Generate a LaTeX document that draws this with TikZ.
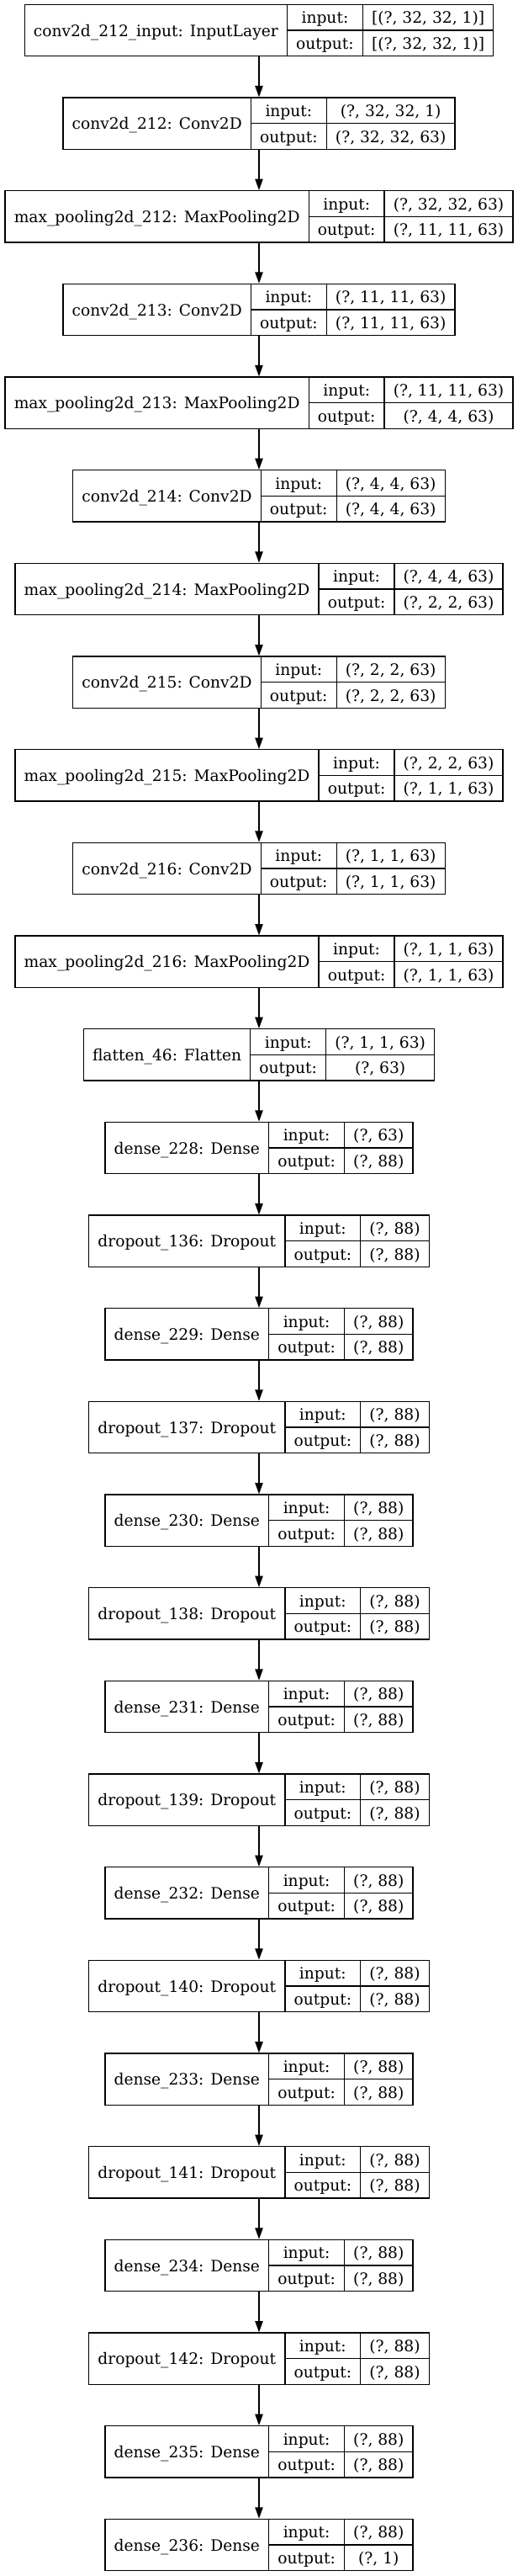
\documentclass[tikz,border=0pt]{standalone}
\usepackage{fontspec}
\setmainfont{DejaVu Serif}
\usetikzlibrary{arrows.meta}
\newlength\lbLenA \newlength\lbLenB \newlength\lbLenC \newlength\lbLenD \newlength\lbLenW
\newcommand\lbFont{\fontsize{14}{16.8}\selectfont}
\tikzset{
  layerframe/.style={draw=black, line width=1pt, inner sep=0pt, minimum height=46pt},
  divline/.style={draw=black, line width=1pt},
  celltext/.style={inner sep=0pt, font=\lbFont, text height=14pt, text depth=3.4pt, anchor=center},
  flowarrow/.style={draw=black, line width=1pt, -{Triangle[length=10pt,width=7pt]}}
}
% #1 node name, #2 row index, #3 label, #4 input shape, #5 output shape
\newcommand\layerbox[5]{%
  \pgfinterruptpicture
    \settowidth\lbLenA{\normalfont\lbFont #3}\global\lbLenA=\lbLenA
    \settowidth\lbLenB{\normalfont\lbFont output:}\global\lbLenB=\lbLenB
    \settowidth\lbLenC{\normalfont\lbFont #4}\global\lbLenC=\lbLenC
    \settowidth\lbLenD{\normalfont\lbFont #5}\global\lbLenD=\lbLenD
  \endpgfinterruptpicture
  \addtolength\lbLenA{16pt}%
  \addtolength\lbLenB{16pt}%
  \ifdim\lbLenD>\lbLenC \lbLenC=\lbLenD\fi
  \addtolength\lbLenC{16pt}%
  \lbLenW=\lbLenA \addtolength\lbLenW{\lbLenB}\addtolength\lbLenW{\lbLenC}%
  \pgfmathsetmacro\lbYc{-(27+83*#2)}%
  \pgfmathsetmacro\lbXl{231-0.5*\lbLenW}%
  \pgfmathsetmacro\lbXa{\lbXl+\lbLenA}%
  \pgfmathsetmacro\lbXb{\lbXa+\lbLenB}%
  \pgfmathsetmacro\lbXr{\lbXl+\lbLenW}%
  \pgfmathsetmacro\lbCa{\lbXl+0.5*\lbLenA}%
  \pgfmathsetmacro\lbCb{\lbXa+0.5*\lbLenB}%
  \pgfmathsetmacro\lbCc{\lbXb+0.5*\lbLenC}%
  \pgfmathsetmacro\lbYt{\lbYc+23}%
  \pgfmathsetmacro\lbYb{\lbYc-23}%
  \pgfmathsetmacro\lbYu{\lbYc+11.5}%
  \pgfmathsetmacro\lbYl{\lbYc-11.5}%
  \node[layerframe, minimum width=\lbLenW] (#1) at (231pt,\lbYc pt) {};
  \draw[divline] (\lbXa pt,\lbYt pt) -- (\lbXa pt,\lbYb pt);
  \draw[divline] (\lbXb pt,\lbYt pt) -- (\lbXb pt,\lbYb pt);
  \draw[divline] (\lbXa pt,\lbYc pt) -- (\lbXr pt,\lbYc pt);
  \node[celltext] (#1-label) at (\lbCa pt,\lbYc pt) {#3};
  \node[celltext] (#1-in) at (\lbCb pt,\lbYu pt) {input:};
  \node[celltext] (#1-out) at (\lbCb pt,\lbYl pt) {output:};
  \node[celltext] (#1-inv) at (\lbCc pt,\lbYu pt) {#4};
  \node[celltext] (#1-outv) at (\lbCc pt,\lbYl pt) {#5};
}
\begin{document}
\begin{tikzpicture}
\useasboundingbox[fill=white] (0pt,0pt) rectangle (462pt,-2295.75pt);
\layerbox{b0}{0}{conv2d\_212\_input: InputLayer}{[(?, 32, 32, 1)]}{[(?, 32, 32, 1)]}
\layerbox{b1}{1}{conv2d\_212: Conv2D}{(?, 32, 32, 1)}{(?, 32, 32, 63)}
\layerbox{b2}{2}{max\_pooling2d\_212: MaxPooling2D}{(?, 32, 32, 63)}{(?, 11, 11, 63)}
\layerbox{b3}{3}{conv2d\_213: Conv2D}{(?, 11, 11, 63)}{(?, 11, 11, 63)}
\layerbox{b4}{4}{max\_pooling2d\_213: MaxPooling2D}{(?, 11, 11, 63)}{(?, 4, 4, 63)}
\layerbox{b5}{5}{conv2d\_214: Conv2D}{(?, 4, 4, 63)}{(?, 4, 4, 63)}
\layerbox{b6}{6}{max\_pooling2d\_214: MaxPooling2D}{(?, 4, 4, 63)}{(?, 2, 2, 63)}
\layerbox{b7}{7}{conv2d\_215: Conv2D}{(?, 2, 2, 63)}{(?, 2, 2, 63)}
\layerbox{b8}{8}{max\_pooling2d\_215: MaxPooling2D}{(?, 2, 2, 63)}{(?, 1, 1, 63)}
\layerbox{b9}{9}{conv2d\_216: Conv2D}{(?, 1, 1, 63)}{(?, 1, 1, 63)}
\layerbox{b10}{10}{max\_pooling2d\_216: MaxPooling2D}{(?, 1, 1, 63)}{(?, 1, 1, 63)}
\layerbox{b11}{11}{flatten\_46: Flatten}{(?, 1, 1, 63)}{(?, 63)}
\layerbox{b12}{12}{dense\_228: Dense}{(?, 63)}{(?, 88)}
\layerbox{b13}{13}{dropout\_136: Dropout}{(?, 88)}{(?, 88)}
\layerbox{b14}{14}{dense\_229: Dense}{(?, 88)}{(?, 88)}
\layerbox{b15}{15}{dropout\_137: Dropout}{(?, 88)}{(?, 88)}
\layerbox{b16}{16}{dense\_230: Dense}{(?, 88)}{(?, 88)}
\layerbox{b17}{17}{dropout\_138: Dropout}{(?, 88)}{(?, 88)}
\layerbox{b18}{18}{dense\_231: Dense}{(?, 88)}{(?, 88)}
\layerbox{b19}{19}{dropout\_139: Dropout}{(?, 88)}{(?, 88)}
\layerbox{b20}{20}{dense\_232: Dense}{(?, 88)}{(?, 88)}
\layerbox{b21}{21}{dropout\_140: Dropout}{(?, 88)}{(?, 88)}
\layerbox{b22}{22}{dense\_233: Dense}{(?, 88)}{(?, 88)}
\layerbox{b23}{23}{dropout\_141: Dropout}{(?, 88)}{(?, 88)}
\layerbox{b24}{24}{dense\_234: Dense}{(?, 88)}{(?, 88)}
\layerbox{b25}{25}{dropout\_142: Dropout}{(?, 88)}{(?, 88)}
\layerbox{b26}{26}{dense\_235: Dense}{(?, 88)}{(?, 88)}
\layerbox{b27}{27}{dense\_236: Dense}{(?, 88)}{(?, 1)}
\foreach \i [evaluate=\i as \j using int(\i+1)] in {0,...,26} {
  \draw[flowarrow] (b\i.south) -- (b\j.north);
}
\end{tikzpicture}
\end{document}
